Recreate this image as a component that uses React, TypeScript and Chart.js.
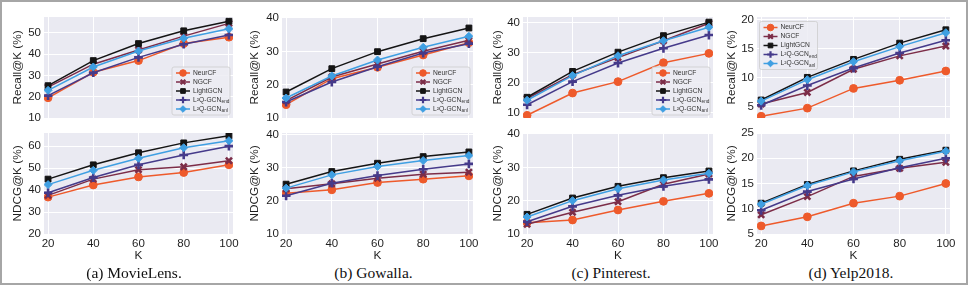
import React, { useEffect, useRef } from 'react';
import { Chart, registerables } from 'chart.js';
import { drawPoint } from 'chart.js/helpers';

Chart.register(...registerables);

// ---------- data ----------
const K = [20, 40, 60, 80, 100];
const SERIES = ['NeurCF', 'NGCF', 'LightGCN', 'L²Q-GCN', 'L²Q-GCN'];
const SUBS = ['', '', '', 'end', 'anl'];

// rows: NeurCF, NGCF, LightGCN, L2Q-GCN_end, L2Q-GCN_anl
const movieLensRecall = [
  [19.5, 31.5, 37.0, 45.0, 48.0],
  [24.5, 35.3, 42.0, 48.5, 54.5],
  [25.2, 37.0, 45.0, 51.0, 55.5],
  [20.5, 31.3, 38.5, 44.7, 49.0],
  [23.0, 34.0, 41.5, 47.5, 52.0],
];
const movieLensNdcg = [
  [36.8, 42.3, 46.0, 48.0, 51.5],
  [37.6, 45.0, 49.3, 50.6, 53.4],
  [45.0, 51.5, 57.0, 61.5, 64.7],
  [38.8, 45.7, 51.5, 56.0, 60.0],
  [42.5, 49.0, 54.5, 59.3, 62.5],
];
const gowallaRecall = [
  [14.0, 21.8, 25.2, 28.9, 32.6],
  [15.2, 22.3, 26.2, 30.0, 33.3],
  [17.8, 24.8, 29.9, 33.8, 37.0],
  [14.8, 20.8, 25.4, 29.5, 32.3],
  [16.0, 22.6, 27.4, 31.2, 34.5],
];
const gowallaNdcg = [
  [22.3, 23.3, 25.5, 26.5, 27.5],
  [23.6, 25.1, 26.8, 28.0, 28.6],
  [25.0, 28.8, 31.3, 33.3, 34.7],
  [21.5, 25.3, 27.6, 29.5, 31.1],
  [23.8, 27.8, 30.3, 32.1, 33.6],
];
const pinterestRecall = [
  [9.2, 16.6, 20.4, 26.7, 29.8],
  [14.8, 22.7, 28.4, 34.0, 39.8],
  [15.2, 23.8, 30.2, 35.7, 40.2],
  [12.7, 20.4, 26.6, 31.5, 35.9],
  [14.2, 22.4, 29.0, 34.0, 38.5],
];
const pinterestNdcg = [
  [13.4, 14.2, 17.2, 19.8, 22.2],
  [12.9, 16.5, 19.7, 24.9, 28.0],
  [15.9, 20.8, 24.3, 26.9, 28.9],
  [13.7, 18.3, 21.6, 24.3, 26.4],
  [15.1, 20.0, 23.6, 26.2, 28.2],
];
const yelpRecall = [
  [3.4, 4.8, 8.2, 9.6, 11.2],
  [5.5, 7.5, 11.5, 13.8, 15.5],
  [6.2, 10.1, 13.2, 16.0, 18.3],
  [5.3, 8.7, 11.7, 14.3, 16.5],
  [6.0, 9.7, 12.8, 15.4, 17.8],
];
const yelpNdcg = [
  [6.6, 8.4, 11.1, 12.5, 15.0],
  [8.8, 12.4, 16.4, 18.0, 19.2],
  [11.1, 14.8, 17.5, 19.8, 21.6],
  [9.7, 13.4, 15.9, 18.1, 20.0],
  [10.9, 14.6, 17.3, 19.5, 21.4],
];

// y-axis ticks / limits
const ticks10to50 = [10, 20, 30, 40, 50];
const ticks20to60 = [20, 30, 40, 50, 60];
const ticks10to40 = [10, 20, 30, 40];
const ticks5to20 = [5, 10, 15, 20];
const ticks5to25 = [5, 10, 15, 20, 25];
const X_TICKS = [20, 40, 60, 80, 100];

const CAPTIONS = ['(a) MovieLens.', '(b) Gowalla.', '(c) Pinterest.', '(d) Yelp2018.'];

// ---------- style ----------
const COLORS = ['#EE5A2B', '#7C2D48', '#141414', '#453A8A', '#3F9FE2'];
const STYLES = ['circle', 'crossRot', 'rect', 'cross', 'rectRot'];
const RADII = [3.9, 4.3, 4.1, 4.4, 4.0];
const PBW = [1, 2.6, 1, 2.6, 1];
const TEXT = '#1f1f1f';
const SANS = '"Liberation Sans", Arial, Helvetica, sans-serif';

const COL_L = [44, 282, 523, 757];
const COL_R = [233, 473, 713, 950];
const TITLE_X = [18, 255, 498, 732];
const CAPTION_X = [134, 373.5, 611, 851];
const ROW_T = [17, 133];
const ROW_B = [118, 234];

type Spec = {
  data: number[][];
  yMin: number;
  yMax: number;
  yTicks: number[];
  title: string;
  col: number;
  row: number;
  legend?: 'lr' | 'ul';
};

const SPECS: Spec[] = [
  { data: movieLensRecall, yMin: 10, yMax: 57.5, yTicks: ticks10to50, title: 'Recall@K (%)', col: 0, row: 0, legend: 'lr' },
  { data: movieLensNdcg, yMin: 20, yMax: 66, yTicks: ticks20to60, title: 'NDCG@K (%)', col: 0, row: 1 },
  { data: gowallaRecall, yMin: 10, yMax: 40.3, yTicks: ticks10to40, title: 'Recall@K (%)', col: 1, row: 0, legend: 'lr' },
  { data: gowallaNdcg, yMin: 10, yMax: 40.4, yTicks: ticks10to40, title: 'NDCG@K (%)', col: 1, row: 1 },
  { data: pinterestRecall, yMin: 8.3, yMax: 41.9, yTicks: ticks10to40, title: 'Recall@K (%)', col: 2, row: 0, legend: 'lr' },
  { data: pinterestNdcg, yMin: 10, yMax: 40.3, yTicks: ticks10to40, title: 'NDCG@K (%)', col: 2, row: 1 },
  { data: yelpRecall, yMin: 3.1, yMax: 20.5, yTicks: ticks5to20, title: 'Recall@K (%)', col: 3, row: 0, legend: 'ul' },
  { data: yelpNdcg, yMin: 5, yMax: 25, yTicks: ticks5to25, title: 'NDCG@K (%)', col: 3, row: 1 },
];

const bgPlugin = {
  id: 'plotBg',
  beforeDraw(chart: any) {
    const { ctx, chartArea: a } = chart;
    ctx.save();
    ctx.fillStyle = '#EAEAF2';
    ctx.fillRect(a.left, a.top, a.right - a.left, a.bottom - a.top);
    ctx.restore();
  },
};

const legendPlugin = {
  id: 'miniLegend',
  afterDraw(chart: any, _args: any, opts: any) {
    if (!opts || !opts.pos) return;
    const { ctx, chartArea: a } = chart;
    const w = 58;
    const h = 48;
    const x = opts.pos === 'lr' ? a.right - 3 - w : a.left + 2.5;
    const y = opts.pos === 'lr' ? a.bottom - 3 - h : a.top + 4.5;
    ctx.save();
    ctx.beginPath();
    const r = 2;
    ctx.moveTo(x + r, y);
    ctx.lineTo(x + w - r, y);
    ctx.quadraticCurveTo(x + w, y, x + w, y + r);
    ctx.lineTo(x + w, y + h - r);
    ctx.quadraticCurveTo(x + w, y + h, x + w - r, y + h);
    ctx.lineTo(x + r, y + h);
    ctx.quadraticCurveTo(x, y + h, x, y + h - r);
    ctx.lineTo(x, y + r);
    ctx.quadraticCurveTo(x, y, x + r, y);
    ctx.closePath();
    ctx.fillStyle = 'rgba(236,236,243,0.85)';
    ctx.fill();
    ctx.strokeStyle = '#cdcdcd';
    ctx.lineWidth = 0.8;
    ctx.stroke();
    for (let i = 0; i < SERIES.length; i++) {
      const cy = y + 6 + i * 9;
      ctx.strokeStyle = COLORS[i];
      ctx.fillStyle = COLORS[i];
      ctx.lineWidth = 1.5;
      ctx.beginPath();
      ctx.moveTo(x + 4, cy);
      ctx.lineTo(x + 18, cy);
      ctx.stroke();
      ctx.lineWidth = PBW[i] > 1 ? 2.2 : 1;
      drawPoint(ctx, { pointStyle: STYLES[i], rotation: 0, radius: 3.3, borderWidth: ctx.lineWidth } as any, x + 11, cy);
      ctx.fillStyle = '#333333';
      ctx.textBaseline = 'middle';
      ctx.textAlign = 'left';
      ctx.font = `6.7px ${SANS}`;
      ctx.fillText(SERIES[i], x + 21, cy);
      if (SUBS[i]) {
        const mw = ctx.measureText(SERIES[i]).width;
        ctx.font = `4.7px ${SANS}`;
        ctx.fillText(SUBS[i], x + 21 + mw + 0.3, cy + 1.8);
      }
    }
    ctx.restore();
  },
};

function SubChart({ spec }: { spec: Spec }) {
  const ref = useRef<HTMLCanvasElement | null>(null);
  const isTop = spec.row === 0;
  const L = COL_L[spec.col];
  const R = COL_R[spec.col];
  const T = ROW_T[spec.row];
  const B = ROW_B[spec.row];
  const yW = L - (TITLE_X[spec.col] - 8);
  const padTop = 10;
  const padRight = 14;
  const xH = isTop ? 0 : 30;
  const padBottom = isTop ? 10 : 0;
  const width = yW + (R - L) + padRight;
  const height = padTop + (B - T) + xH + padBottom;
  const left = L - yW;
  const top = T - padTop;

  useEffect(() => {
    if (!ref.current) return;
    const tickFont = { family: SANS, size: 11.5 };
    const titleFont = { family: SANS, size: 11.8 };
    const chart = new Chart(ref.current, {
      type: 'line',
      data: {
        datasets: spec.data.map((vals, i) => ({
          label: SERIES[i] + SUBS[i],
          data: K.map((k, j) => ({ x: k, y: vals[j] })),
          borderColor: COLORS[i],
          backgroundColor: COLORS[i],
          pointBackgroundColor: COLORS[i],
          pointBorderColor: COLORS[i],
          pointStyle: STYLES[i] as any,
          pointRadius: RADII[i],
          pointBorderWidth: PBW[i],
          borderWidth: 1.5,
          tension: 0,
          fill: false,
          order: SERIES.length - 1 - i,
        })),
      },
      options: {
        responsive: false,
        animation: false,
        devicePixelRatio: 1,
        events: [],
        layout: { padding: { top: padTop, right: padRight, bottom: padBottom, left: 0 } },
        plugins: {
          legend: { display: false },
          tooltip: { enabled: false },
          miniLegend: { pos: spec.legend },
        } as any,
        scales: {
          x: {
            type: 'linear',
            min: 18.2,
            max: 101.8,
            afterBuildTicks: (s: any) => {
              s.ticks = X_TICKS.map((v) => ({ value: v }));
            },
            afterFit: (s: any) => {
              s.height = xH;
            },
            grid: { color: '#ffffff', lineWidth: 1, drawTicks: false },
            border: { display: false },
            ticks: { display: !isTop, padding: 2.5, font: tickFont, color: TEXT, autoSkip: false, maxRotation: 0 },
            title: { display: !isTop, text: 'K', font: titleFont, color: TEXT, padding: { top: 0, bottom: 1.6 } },
          },
          y: {
            type: 'linear',
            min: spec.yMin,
            max: spec.yMax,
            afterBuildTicks: (s: any) => {
              s.ticks = spec.yTicks.map((v) => ({ value: v }));
            },
            afterFit: (s: any) => {
              s.width = yW;
            },
            grid: { color: '#ffffff', lineWidth: 1, drawTicks: false },
            border: { display: false },
            ticks: { padding: 3, font: tickFont, color: TEXT, autoSkip: false },
            title: { display: true, text: spec.title, font: titleFont, color: TEXT, padding: { top: 1.0, bottom: 0 } },
          },
        },
      } as any,
      plugins: [bgPlugin, legendPlugin],
    });
    return () => chart.destroy();
  }, []);

  return (
    <canvas
      ref={ref}
      width={width}
      height={height}
      style={{ position: 'absolute', left, top, width, height, display: 'block' }}
    />
  );
}

export default function App() {
  return (
    <div
      style={{
        position: 'fixed',
        left: 0,
        top: 0,
        width: 969,
        height: 286,
        background: '#ffffff',
        overflow: 'hidden',
      }}
    >
      <div
        style={{
          position: 'absolute',
          left: 0,
          top: 0,
          width: 968,
          height: 285,
          boxSizing: 'border-box',
          border: '2px solid #a6a6a6',
        }}
      />
      {SPECS.map((s, i) => (
        <SubChart key={i} spec={s} />
      ))}
      {CAPTIONS.map((c, i) => (
        <div
          key={c}
          style={{
            position: 'absolute',
            left: CAPTION_X[i] - 100,
            top: 264,
            width: 200,
            textAlign: 'center',
            fontFamily: '"Liberation Serif", "Times New Roman", serif',
            fontSize: 15.5,
            lineHeight: '18px',
            color: '#111',
          }}
        >
          {c}
        </div>
      ))}
    </div>
  );
}
